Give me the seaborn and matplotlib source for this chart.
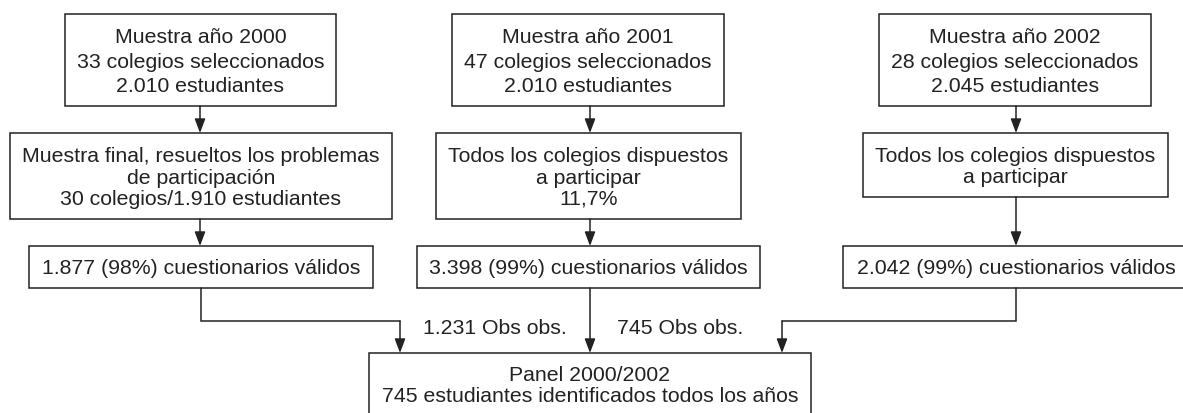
import matplotlib.pyplot as plt
import seaborn as sns
from matplotlib.patches import Rectangle

sns.set_theme(style="white")
plt.rcParams["font.family"] = ["Liberation Sans", "DejaVu Sans"]

# texts of the flow chart, one list per row (years 2000, 2001, 2002)
muestras = [
    "Muestra año 2000\n33 colegios seleccionados\n2.010 estudiantes",
    "Muestra año 2001\n47 colegios seleccionados\n2.010 estudiantes",
    "Muestra año 2002\n28 colegios seleccionados\n2.045 estudiantes",
]
participacion = [
    "Muestra final, resueltos los problemas\nde participación\n30 colegios/1.910 estudiantes",
    "Todos los colegios dispuestos\na participar\n11,7%",
    "Todos los colegios dispuestos\na participar",
]
validos = [
    "1.877 (98%) cuestionarios válidos",
    "3.398 (99%) cuestionarios válidos",
    "2.042 (99%) cuestionarios válidos",
]
panel_txt = "Panel 2000/2002\n745 estudiantes identificados todos los años"
obs_labels = ["1.231 Obs obs.", "745 Obs obs."]

# layout in pixels (x0, x1, y0, y1), y grows downwards
cols_x = [200, 590, 1016]
row1 = [(65, 336), (452, 724), (879, 1151)]
row2 = [(10, 392), (436, 741), (863, 1168)]
row2_y = [(133, 219), (133, 219), (133, 197)]
row3 = [(29, 373), (417, 760), (843, 1189)]
panel_box = (369, 811, 353, 430)

ink = "#222222"
fs = 15.3
lw = 1.1
dy = 2  # small nudge so text sits like in the print

fig = plt.figure(figsize=(11.83, 4.13), dpi=100)
ax = fig.add_axes([0, 0, 1, 1])
ax.set_xlim(0, 1183)
ax.set_ylim(413, 0)
ax.axis("off")


def box(x0, x1, y0, y1, txt, ls=1.15):
    ax.add_patch(Rectangle((x0, y0), x1 - x0, y1 - y0, facecolor="white",
                           edgecolor=ink, lw=lw))
    ax.text((x0 + x1) / 2, (y0 + y1) / 2 + dy, txt, ha="center", va="center",
            fontsize=fs, color=ink, linespacing=ls)


def arrow(x, y0, y1):
    ax.annotate("", xy=(x, y1), xytext=(x, y0),
                arrowprops=dict(arrowstyle="-|>,head_length=0.85,head_width=0.32",
                                color=ink, lw=lw, shrinkA=0, shrinkB=0,
                                mutation_scale=10))


for i in range(3):
    box(*row1[i], 14, 106, muestras[i], ls=1.36)
    box(*row2[i], *row2_y[i], participacion[i], ls=1.16)
    box(*row3[i], 246, 288, validos[i])
    arrow(cols_x[i], 106, 133)
    arrow(cols_x[i], row2_y[i][1], 246)

box(*panel_box, "", )
ax.text((panel_box[0] + panel_box[1]) / 2, 386, panel_txt, ha="center",
        va="center", fontsize=fs, color=ink, linespacing=1.08)

# elbow connectors into the panel
ax.plot([201, 201, 400], [288, 321, 321], color=ink, lw=lw, solid_joinstyle="miter")
arrow(400, 321, 353)
ax.plot([1016, 1016, 782], [288, 321, 321], color=ink, lw=lw, solid_joinstyle="miter")
arrow(782, 321, 353)
arrow(590, 288, 353)

ax.text(495, 327 + dy, obs_labels[0], ha="center", va="center", fontsize=fs, color=ink)
ax.text(680, 327 + dy, obs_labels[1], ha="center", va="center", fontsize=fs, color=ink)

fig.savefig("out.png", dpi=100)
